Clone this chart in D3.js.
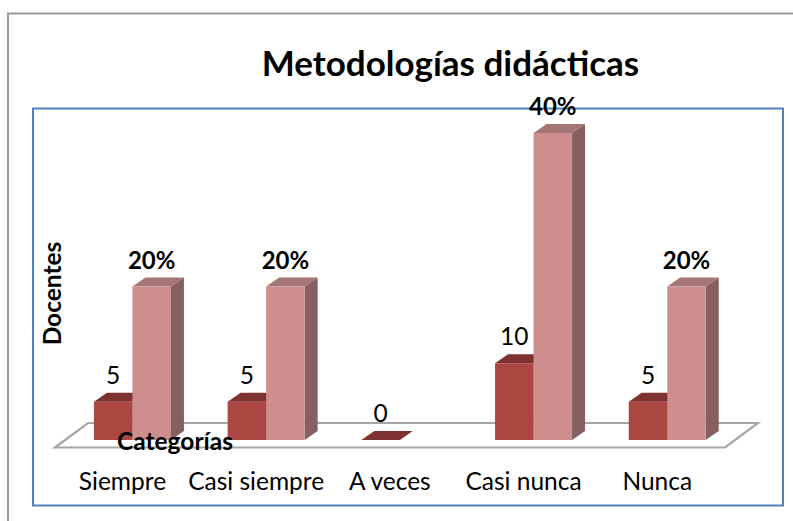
<!DOCTYPE html>
<html>
<head>
<meta charset="utf-8">
<script src="https://cdn.jsdelivr.net/npm/d3@7"></script>
<style>
  html, body { margin: 0; padding: 0; background: #fff; }
  svg { display: block; }
  text { font-family: Lato, "Open Sans", sans-serif; fill: #000; }
</style>
</head>
<body>
<div id="chart"></div>
<script>
const categories = ['Siempre', 'Casi siempre', 'A veces', 'Casi nunca', 'Nunca'];
const docentes = [5, 5, 0, 10, 5];
// no second bar and no label for A veces
const porcentajes = [20, 20, null, 40, 20];
const chartTitle = 'Metodologías didácticas';
const yTitle = 'Docentes';
const xTitle = 'Categorías';

const width = 793;
const height = 521;
const baseY = 440;
const depth = { x: 13, y: 9 };

const svg = d3.select('#chart').append('svg')
  .attr('width', width)
  .attr('height', height);

const blur = svg.append('defs').append('filter')
  .attr('id', 'soft')
  .attr('x', '-10%').attr('y', '-10%')
  .attr('width', '120%').attr('height', '120%');
blur.append('feGaussianBlur').attr('stdDeviation', 0.6);

// page frame, cut off by the crop on the right and at the bottom
svg.append('path')
  .attr('d', `M8 ${height}V13.5H${width}`)
  .attr('fill', 'none')
  .attr('stroke', '#9a9a9a')
  .attr('stroke-width', 2);

svg.append('rect')
  .attr('x', 33).attr('y', 108.5)
  .attr('width', 750).attr('height', 397)
  .attr('fill', '#fff')
  .attr('stroke', '#4f81bd')
  .attr('stroke-width', 2);

const x = d3.scaleBand()
  .domain(categories)
  .range([65.6, 734.1])
  .paddingInner(0.424)
  .paddingOuter(0.212);

const xSeries = d3.scaleBand()
  .domain(['docentes', 'porcentajes'])
  .range([0, x.bandwidth()]);

const y = d3.scaleLinear().domain([0, 40]).range([baseY, baseY - 307]);

// floor
svg.append('path')
  .attr('d', `M55 447.5L88 423H758L725 447.5Z`)
  .attr('fill', '#fff')
  .attr('stroke', '#a6a6a6')
  .attr('stroke-width', 2.2)
  .attr('filter', 'url(#soft)');

function drawBars(key, values, colors) {
  const g = svg.append('g').attr('class', `bars-${key}`).attr('filter', 'url(#soft)');
  const w = xSeries.bandwidth();
  const rows = categories
    .map((c, i) => ({ c, v: values[i], x0: x(c) + xSeries(key) }))
    .filter((d) => d.v !== null);

  // zero values are drawn only as the flat top
  g.selectAll('path.side')
    .data(rows.filter((d) => d.v > 0))
    .join('path')
    .attr('class', 'side')
    .attr('fill', colors.side)
    .attr('d', (d) => {
      const x1 = d.x0 + w;
      return `M${x1} ${y(d.v)}l${depth.x} ${-depth.y}V${baseY - depth.y}l${-depth.x} ${depth.y}Z`;
    });

  g.selectAll('path.top')
    .data(rows)
    .join('path')
    .attr('class', 'top')
    .attr('fill', colors.top)
    .attr('d', (d) => `M${d.x0} ${y(d.v)}h${w}l${depth.x} ${-depth.y}h${-w}Z`);

  g.selectAll('rect')
    .data(rows.filter((d) => d.v > 0))
    .join('rect')
    .attr('fill', colors.front)
    .attr('x', (d) => d.x0)
    .attr('y', (d) => y(d.v))
    .attr('width', w)
    .attr('height', (d) => baseY - y(d.v));
}

drawBars('docentes', docentes, { front: '#aa4643', top: '#7e3230', side: '#7e3230' });
drawBars('porcentajes', porcentajes, { front: '#ce8e8e', top: '#a67474', side: '#866060' });

const labelSize = 24.5;

svg.append('g').selectAll('text')
  .data(categories.map((c, i) => ({ c, v: docentes[i] })))
  .join('text')
  .attr('x', (d) => x(d.c) + xSeries('docentes') + xSeries.bandwidth() / 2)
  .attr('y', (d) => y(d.v) - 18)
  .attr('text-anchor', 'middle')
  .attr('font-size', labelSize)
  .text((d) => d.v);

svg.append('g').selectAll('text')
  .data(categories.map((c, i) => ({ c, v: porcentajes[i] })).filter((d) => d.v !== null))
  .join('text')
  .attr('x', (d) => x(d.c) + xSeries('porcentajes') + xSeries.bandwidth() / 2)
  .attr('y', (d) => y(d.v) - 18)
  .attr('text-anchor', 'middle')
  .attr('font-size', 24)
  .attr('font-weight', 700)
  .text((d) => `${d.v}%`);

// category axis, labels sit a bit left of the bars
const axis = svg.append('g')
  .attr('transform', 'translate(-10,467)')
  .call(d3.axisBottom(x).tickSize(0).tickPadding(6));
axis.select('.domain').remove();
axis.selectAll('text')
  .attr('font-size', labelSize)
  .attr('font-family', 'Lato, "Open Sans", sans-serif')
  .attr('fill', '#000');

svg.append('text')
  .attr('x', 450.5).attr('y', 76)
  .attr('text-anchor', 'middle')
  .attr('font-size', 35)
  .attr('font-weight', 700)
  .text(chartTitle);

svg.append('text')
  .attr('transform', 'translate(61,293.5) rotate(-90)')
  .attr('text-anchor', 'middle')
  .attr('font-size', labelSize)
  .attr('font-weight', 700)
  .text(yTitle);

svg.append('text')
  .attr('x', 175).attr('y', 450)
  .attr('text-anchor', 'middle')
  .attr('font-size', labelSize)
  .attr('font-weight', 700)
  .text(xTitle);
</script>
</body>
</html>
